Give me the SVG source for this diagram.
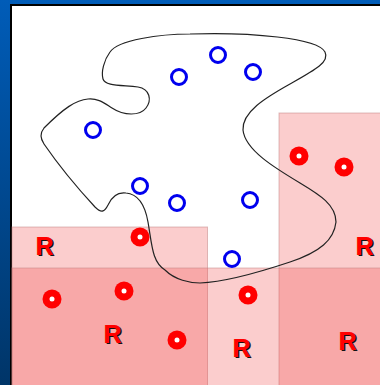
<svg xmlns="http://www.w3.org/2000/svg" width="380" height="385" viewBox="0 0 380 385">
<defs>
<linearGradient id="bg" x1="0" y1="0" x2="0" y2="1">
<stop offset="0" stop-color="#005cb8"/>
<stop offset="1" stop-color="#003568"/>
</linearGradient>
<style>
.reg{fill:#f03c3c;fill-opacity:0.26;stroke:#c08080;stroke-opacity:0.5;stroke-width:1}
.o{fill:none;stroke:#0000ee;stroke-width:3}
.dot{fill:#ff0000}
.hole{fill:#ffffff}
.lbl{font-family:"Liberation Sans",Arial,sans-serif;font-weight:bold;font-size:25px;text-anchor:middle}
.sh{fill:#111111}
.rd{fill:#ff0000}
</style>
</defs>
<rect x="0" y="0" width="380" height="385" fill="url(#bg)"/>
<rect x="11" y="5" width="380" height="390" fill="#ffffff" stroke="#000000" stroke-width="2"/>
<g id="regions">
<rect class="reg" x="12" y="227" width="195.5" height="170"/>
<rect class="reg" x="279" y="113" width="110" height="280"/>
<rect class="reg" x="12" y="268" width="380" height="130"/>
</g>
<g id="connectors">
<path d="M190,34 C160,34 118,40 110,52 C104,60 101,72 103,79 C105,86 120,85 138,87 C150,89 152,100 146,108 C140,116 124,116 112,108 C104,103 98,98 88,99 C76,100 64,108 44,128 C40,133 40,138 44,144 C55,160 70,180 95,207 C102,214 105,211 108,205 C112,196 118,192 126,193 C138,194 145,205 148,222 C152,245 152,262 165,270 C175,280 190,283 200,283 C225,282 260,272 290,262 C320,252 334,240 336,222 C336,205 320,195 300,183 C275,168 245,150 243,130 C242,112 265,98 290,84 C315,70 330,62 325,52 C318,38 250,32 190,34 Z" fill="none" stroke="#222222" stroke-width="1.2"/>
</g>
<g id="blue-points">
<circle class="o" cx="179" cy="77" r="7.5"/>
<circle class="o" cx="93" cy="130" r="7.5"/>
<circle class="o" cx="140" cy="186" r="7.5"/>
<circle class="o" cx="218" cy="55" r="7.5"/>
<circle class="o" cx="253" cy="72" r="7.5"/>
<circle class="o" cx="177" cy="203" r="7.5"/>
<circle class="o" cx="250" cy="200" r="7.5"/>
<circle class="o" cx="232" cy="259" r="7.5"/>
</g>
<g id="red-points">
<circle class="dot" cx="299" cy="156" r="9.5"/><circle class="hole" cx="299" cy="156" r="2.5"/>
<circle class="dot" cx="344" cy="167" r="9.5"/><circle class="hole" cx="344" cy="167" r="2.5"/>
<circle class="dot" cx="140" cy="237" r="9.5"/><circle class="hole" cx="140" cy="237" r="2.5"/>
<circle class="dot" cx="124" cy="291" r="9.5"/><circle class="hole" cx="124" cy="291" r="2.5"/>
<circle class="dot" cx="52" cy="299" r="9.5"/><circle class="hole" cx="52" cy="299" r="2.5"/>
<circle class="dot" cx="177" cy="340" r="9.5"/><circle class="hole" cx="177" cy="340" r="2.5"/>
<circle class="dot" cx="248" cy="295" r="9.5"/><circle class="hole" cx="248" cy="295" r="2.5"/>
</g>
<g id="labels">
<text class="lbl sh" x="46" y="256">R</text><text class="lbl rd" x="44.5" y="254.5">R</text>
<text class="lbl sh" x="114" y="344">R</text><text class="lbl rd" x="112.5" y="342.5">R</text>
<text class="lbl sh" x="366" y="256">R</text><text class="lbl rd" x="364.5" y="254.5">R</text>
<text class="lbl sh" x="243" y="358">R</text><text class="lbl rd" x="241.5" y="356.5">R</text>
<text class="lbl sh" x="349" y="351">R</text><text class="lbl rd" x="347.5" y="349.5">R</text>
</g>
</svg>
